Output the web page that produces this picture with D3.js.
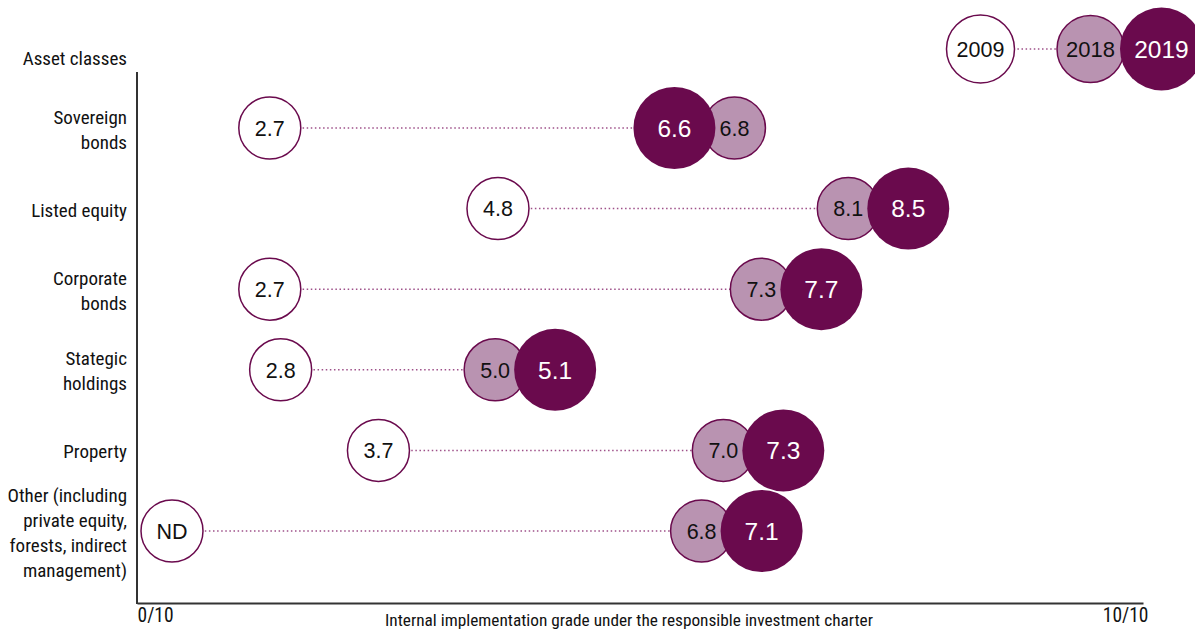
<!DOCTYPE html>
<html><head><meta charset="utf-8">
<script src="https://cdn.jsdelivr.net/npm/d3@7"></script>
<style>
body{margin:0;background:#fff;}
svg{display:block;}
.lab{font-family:'Liberation Sans Narrow','Arial Narrow','Roboto Condensed',Roboto,sans-serif;fill:#111;}
.num{font-family:'Liberation Sans',Arial,Helvetica,sans-serif;}
</style></head><body>
<svg id="c" width="1195" height="630"></svg>
<script>
// ---- data ----
const categories = ["Sovereign\nbonds","Listed equity","Corporate\nbonds","Stategic\nholdings","Property","Other (including\nprivate equity,\nforests, indirect\nmanagement)"];
const grade2009 = [2.7, 4.8, 2.7, 2.8, 3.7, null]; // null = ND (no data)
const grade2018 = [6.8, 8.1, 7.3, 5.0, 7.0, 6.8];
const grade2019 = [6.6, 8.5, 7.7, 5.1, 7.3, 7.1];
const seriesNames = ["2009","2018","2019"];
const axisTickValues = [0, 10];
const axisTickLabels = ["0/10","10/10"];
const axisTitle = "Internal implementation grade under the responsible investment charter";
const rowTitle = "Asset classes";

// ---- styles ----
const DARK = "#6a0a4d", MAUVE = "#b993b1", DOT = "#9e5089";
const R09 = 31, R18 = 31, R19 = 41, PAIR_GAP = 60;

const svg = d3.select("#c");
const x = d3.scaleLinear().domain([1.8, 10]).range([172, 1063]);
const y = d3.scalePoint().domain(categories).range([128, 531]);
const axisX = d3.scaleLinear().domain([0, 10]).range([137, 1143]);

// axes
svg.append("line").attr("x1",137).attr("x2",137).attr("y1",72).attr("y2",604)
  .attr("stroke","#333").attr("stroke-width",2);
const gx = svg.append("g").attr("transform","translate(0,603)")
  .call(d3.axisBottom(axisX).tickValues(axisTickValues).tickSize(0).tickPadding(8)
        .tickFormat((d,i)=>axisTickLabels[i]));
gx.select(".domain").attr("stroke","#333").attr("stroke-width",2);
gx.selectAll("text").attr("class","lab").attr("font-size",19.5).attr("fill","#111")
  .attr("text-anchor",(d,i)=> i===0 ? "start" : "end")
  .attr("dx",(d,i)=> i===0 ? 0 : 5).attr("dy","0.55em");
svg.append("text").attr("class","lab").attr("x",629).attr("y",626)
  .attr("text-anchor","middle").attr("font-size",17.3).text(axisTitle);

// row labels
svg.append("text").attr("class","lab").attr("x",127).attr("y",65)
  .attr("text-anchor","end").attr("font-size",19).text(rowTitle);
categories.forEach(c=>{
  const lines = c.split("\n");
  const lh = 25;
  const t = svg.append("text").attr("class","lab").attr("text-anchor","end").attr("font-size",19);
  lines.forEach((l,i)=>{
    t.append("tspan").attr("x",127)
     .attr("y", y(c) + (i - (lines.length-1)/2)*lh + 8).text(l);
  });
});

// rows
const rows = categories.map((c,i)=>({c, v09:grade2009[i], v18:grade2018[i], v19:grade2019[i]}));
rows.forEach(d=>{
  const cy = y(d.c);
  const x09 = d.v09 == null ? x(x.domain()[0]) : x(d.v09);
  const mid = x((d.v18 + d.v19)/2);
  const x18 = d.v18 <= d.v19 ? mid - PAIR_GAP/2 : mid + PAIR_GAP/2;
  const x19 = d.v18 <= d.v19 ? mid + PAIR_GAP/2 : mid - PAIR_GAP/2;
  const leftX = Math.min(x18, x19);
  const g = svg.append("g");
  g.append("line").attr("x1",x09).attr("x2",leftX).attr("y1",cy).attr("y2",cy)
    .attr("stroke",DOT).attr("stroke-width",1.5).attr("stroke-dasharray","1.5,2.6");
  g.append("circle").attr("cx",x09).attr("cy",cy).attr("r",R09)
    .attr("fill","#fff").attr("stroke",DARK).attr("stroke-width",1.5);
  g.append("text").attr("class","num").attr("x",x09).attr("y",cy).attr("dy","0.36em")
    .attr("text-anchor","middle").attr("font-size",21.5).attr("fill","#111")
    .text(d.v09 == null ? "ND" : d.v09.toFixed(1));
  g.append("circle").attr("cx",x18).attr("cy",cy).attr("r",R18)
    .attr("fill",MAUVE).attr("stroke",DARK).attr("stroke-width",1.5);
  g.append("text").attr("class","num").attr("x",x18).attr("y",cy).attr("dy","0.36em")
    .attr("text-anchor","middle").attr("font-size",21.5).attr("fill","#111")
    .text(d.v18.toFixed(1));
  g.append("circle").attr("cx",x19).attr("cy",cy).attr("r",R19).attr("fill",DARK);
  g.append("text").attr("class","num").attr("x",x19).attr("y",cy).attr("dy","0.36em")
    .attr("text-anchor","middle").attr("font-size",24.5).attr("fill","#fff")
    .text(d.v19.toFixed(1));
});

// legend
const lg = svg.append("g");
const LY = 49;
const legendItems = [
  {name:seriesNames[0], cx:980.5, r:34, fill:"#fff", stroke:DARK, tc:"#111", fs:21.5},
  {name:seriesNames[1], cx:1090.5, r:33.5, fill:MAUVE, stroke:DARK, tc:"#111", fs:22},
  {name:seriesNames[2], cx:1161.5, r:41.5, fill:DARK, stroke:"none", tc:"#fff", fs:24.5}
];
lg.append("line").attr("x1",legendItems[0].cx).attr("x2",legendItems[1].cx).attr("y1",LY).attr("y2",LY)
  .attr("stroke",DOT).attr("stroke-width",1.5).attr("stroke-dasharray","1.5,2.6");
legendItems.forEach(it=>{
  lg.append("circle").attr("cx",it.cx).attr("cy",LY).attr("r",it.r)
    .attr("fill",it.fill).attr("stroke",it.stroke).attr("stroke-width",1.5);
  lg.append("text").attr("class","num").attr("x",it.cx).attr("y",LY).attr("dy","0.36em")
    .attr("text-anchor","middle").attr("font-size",it.fs).attr("fill",it.tc).text(it.name);
});
</script>
</body></html>
